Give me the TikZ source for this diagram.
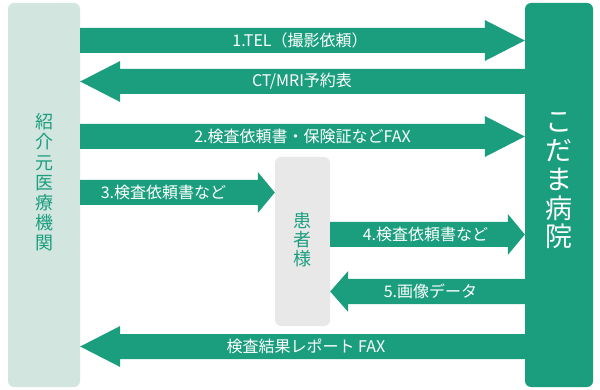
\documentclass[tikz,border=0pt]{standalone}
\usepackage{fontspec}
\setmainfont{Noto Sans CJK JP}
\usetikzlibrary{calc}
\definecolor{kgreen}{HTML}{1A9E7E}
\definecolor{lgreen}{HTML}{D2E5DF}
\definecolor{pgray}{HTML}{E8E8E8}
\newcommand\fatarrow[3]{%
  \fill[kgreen] ($(#1)+(0,-12.5)$) -- ($(#2)+({-1*(#3)},-12.5)$) -- ($(#2)+({-1*(#3)},-20.5)$) -- (#2)
    -- ($(#2)+({-1*(#3)},20.5)$) -- ($(#2)+({-1*(#3)},12.5)$) -- ($(#1)+(0,12.5)$) -- cycle;}
\begin{document}
\begin{tikzpicture}[x=1pt,y=-1pt,
  box/.style={rounded corners=6pt, inner sep=0pt},
  lbl/.style={text=white, font=\fontsize{16}{18}\selectfont, inner sep=0pt},
  vtxt/.style={align=center, inner sep=0pt}]
\useasboundingbox[fill=white] (0,0) rectangle (600,390);
% boxes
\node[box, fill=lgreen, minimum width=72pt, minimum height=384pt] (L) at (44,195) {};
\node[box, fill=kgreen, minimum width=68pt, minimum height=384pt] (R) at (559,195) {};
\node[box, fill=pgray, minimum width=55pt, minimum height=169pt] (P) at (302.5,241.5) {};
\node[vtxt, text=kgreen, font=\fontsize{18}{20.2}\selectfont] (Lt) at (44,182.5) {紹\\介\\元\\医\\療\\機\\関};
\node[vtxt, text=white, font=\fontsize{27}{28.75}\selectfont] (Rt) at (559,181) {こ\\だ\\ま\\病\\院};
\node[vtxt, text=kgreen, font=\fontsize{18}{19}\selectfont] (Pt) at (302.5,240) {患\\者\\様};
% arrow end points
\coordinate (a1s) at (L.east |- 0,40.5);  \coordinate (a1e) at (R.west |- 0,40.5);
\coordinate (a2s) at (R.west |- 0,81.5);  \coordinate (a2e) at (L.east |- 0,81.5);
\coordinate (a3s) at (L.east |- 0,136.5); \coordinate (a3e) at (R.west |- 0,136.5);
\coordinate (a4s) at (L.east |- 0,192.5); \coordinate (a4e) at (P.west |- 0,192.5);
\coordinate (a5s) at (P.east |- 0,234.5); \coordinate (a5e) at (R.west |- 0,234.5);
\coordinate (a6s) at (R.west |- 0,291.5); \coordinate (a6e) at (P.east |- 0,291.5);
\coordinate (a7s) at (R.west |- 0,346.5); \coordinate (a7e) at (L.east |- 0,346.5);
\fatarrow{a1s}{a1e}{40}
\fatarrow{a2s}{a2e}{-40}
\fatarrow{a3s}{a3e}{40}
\fatarrow{a4s}{a4e}{17}
\fatarrow{a5s}{a5e}{17}
\fatarrow{a6s}{a6e}{-18}
\fatarrow{a7s}{a7e}{-40}
% labels
\node[lbl] (t1) at (300,40.5) {1.TEL（撮影依頼）};
\node[lbl] (t2) at (302,81.5) {CT/MRI予約表};
\node[lbl] (t3) at (302.5,136.5) {2.検査依頼書・保険証などFAX};
\node[lbl] (t4) at (163.5,192) {3.検査依頼書など};
\node[lbl] (t5) at (425.5,234.5) {4.検査依頼書など};
\node[lbl] (t6) at (430.5,291.5) {5.画像データ};
\node[lbl] (t7) at (306,346.5) {検査結果レポート FAX};
\end{tikzpicture}
\end{document}
